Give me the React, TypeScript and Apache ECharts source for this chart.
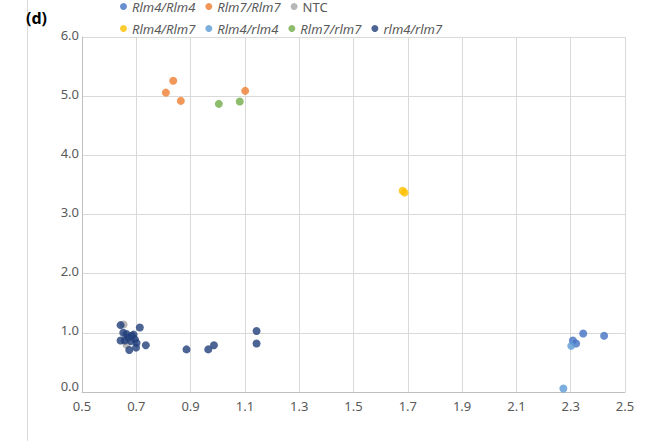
import React, { useEffect, useRef } from "react";
import * as echarts from "echarts";

const seriesNames = ["Rlm4/Rlm4", "Rlm7/Rlm7", "NTC", "Rlm4/Rlm7", "Rlm4/rlm4", "Rlm7/rlm7", "rlm4/rlm7"];
const seriesColors = ["#4472C4", "#ED7D31", "#A5A5A5", "#FFC000", "#5B9BD5", "#70AD47", "#213F7A"];

const rlm4Rlm4: number[][] = [[2.308, 0.87], [2.32, 0.82], [2.346, 0.99], [2.423, 0.95]];
const rlm7Rlm7: number[][] = [[0.836, 5.26], [0.809, 5.06], [0.864, 4.92], [1.101, 5.09]];
const ntc: number[][] = [[0.653, 1.14], [0.664, 0.8]];
const rlm4Rlm7: number[][] = [[1.681, 3.4], [1.688, 3.37]];
const rlm4rlm4: number[][] = [[2.302, 0.78], [2.273, 0.06]];
const rlm7rlm7: number[][] = [[1.004, 4.87], [1.081, 4.91]];
const rlm4rlm7: number[][] = [
  [0.642, 1.13], [0.713, 1.09], [0.652, 1.0], [0.664, 0.98], [0.642, 0.87], [0.658, 0.87],
  [0.683, 0.95], [0.695, 0.89], [0.701, 0.83], [0.674, 0.71], [0.699, 0.75], [0.735, 0.79],
  [0.67, 0.92], [0.69, 0.97], [0.68, 0.86],
  [0.885, 0.72], [0.965, 0.72], [0.986, 0.79], [1.143, 1.03], [1.143, 0.82],
];
const allData = [rlm4Rlm4, rlm7Rlm7, ntc, rlm4Rlm7, rlm4rlm4, rlm7rlm7, rlm4rlm7];

const xTicks = { min: 0.5, max: 2.5, interval: 0.2 };
const yTicks = { min: 0, max: 6, interval: 1 };

export default function App() {
  const ref = useRef<HTMLDivElement>(null);
  useEffect(() => {
    document.body.style.margin = "0";
    const chart = echarts.init(ref.current!, null, { renderer: "svg" });
    const legendText = { fontFamily: "Noto Sans", fontSize: 13, fontStyle: "italic", color: "#595959" };
    const legendItem = (name: string) =>
      name === "NTC" ? { name, textStyle: { fontStyle: "normal" } } : { name };
    chart.setOption({
      animation: false,
      backgroundColor: "#ffffff",
      graphic: [
        { type: "line", shape: { x1: 27.5, y1: 0, x2: 27.5, y2: 441 }, style: { stroke: "#d9d9d9", lineWidth: 1 } },
        {
          type: "text", left: 26, top: 10,
          style: { text: "(d)", fontFamily: "Noto Sans", fontWeight: "bold", fontSize: 16, fill: "#000000" },
        },
      ],
      legend: [
        {
          data: seriesNames.slice(0, 3).map(legendItem), left: 115, top: -5, itemWidth: 7, itemHeight: 7, itemGap: 10,
          icon: "circle", textStyle: legendText,
        },
        {
          data: seriesNames.slice(3).map(legendItem), left: 115, top: 17, itemWidth: 7, itemHeight: 7, itemGap: 10,
          icon: "circle", textStyle: legendText,
        },
      ],
      grid: { left: 82, right: 37, top: 37, bottom: 49 },
      xAxis: {
        type: "value", ...xTicks,
        axisLine: { show: true, lineStyle: { color: "#bfbfbf" } },
        axisTick: { show: false },
        splitLine: { show: true, lineStyle: { color: "#d9d9d9" } },
        axisLabel: {
          fontFamily: "Noto Sans", fontSize: 13, color: "#595959", margin: 7,
          formatter: (v: number) => v.toFixed(1),
        },
      },
      yAxis: {
        type: "value", ...yTicks,
        axisLine: { show: true, lineStyle: { color: "#bfbfbf" } },
        axisTick: { show: false },
        splitLine: { show: true, lineStyle: { color: "#d9d9d9" } },
        axisLabel: {
          fontFamily: "Noto Sans", fontSize: 13, color: "#595959", margin: 3,
          padding: [0, 0, 5, 0],
          formatter: (v: number) => (v === 0 ? "{z|0.0}" : v.toFixed(1)),
          rich: {
            z: { fontFamily: "Noto Sans", fontSize: 13, color: "#595959", padding: [0, 0, 7, 0] },
          },
        },
      },
      series: seriesNames.map((name, i) => ({
        name,
        type: "scatter",
        data: allData[i],
        symbol: "circle",
        symbolSize: 8,
        itemStyle: { color: seriesColors[i] },
      })),
    });
    return () => chart.dispose();
  }, []);
  return <div ref={ref} style={{ width: 662, height: 441 }} />;
}
